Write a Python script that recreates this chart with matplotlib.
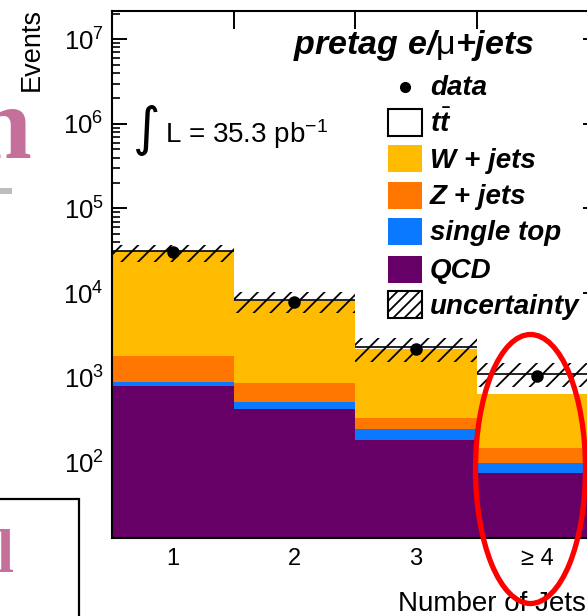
import matplotlib
matplotlib.use("Agg")
import matplotlib.pyplot as plt
import numpy as np
from matplotlib.patches import Rectangle, Ellipse
from matplotlib.lines import Line2D

W, H = 587, 616
DPI = 100

plt.rcParams['font.family'] = ['Liberation Sans', 'DejaVu Sans']
plt.rcParams['mathtext.fontset'] = 'custom'
plt.rcParams['mathtext.rm'] = 'Liberation Sans'
plt.rcParams['mathtext.it'] = 'Liberation Sans:italic:bold'
plt.rcParams['mathtext.bf'] = 'Liberation Sans:bold'
plt.rcParams['hatch.linewidth'] = 1.3

# ---- event yields per jet-multiplicity bin ----
jet_bins = ["1", "2", "3", "≥ 4"]
qcd = [800, 427, 183, 74]
single_top = [95, 89, 62, 23]
z_jets = [910, 349, 91, 49]
w_jets = [29500, 7271, 1830, 490]
ttbar = [150, 150, 120, 470]
data = [30300, 7910, 2166, 1047]
unc_low = [23500, 5770, 1545, 783]
unc_high = [37040, 10390, 2945, 1492]

samples = [
    ("QCD", qcd, "#660066"),
    ("single top", single_top, "#0A78FF"),
    ("Z + jets", z_jets, "#FF7700"),
    ("W + jets", w_jets, "#FFBB00"),
    (r"$t\bar{t}$", ttbar, "white"),
]

fig = plt.figure(figsize=(W / DPI, H / DPI), dpi=DPI)


def fx(x):
    return x / W


def fy(y):
    return 1 - y / H


ax = fig.add_axes([fx(112), fy(538), 486 / W, 527 / H])
x = np.arange(1, len(jet_bins) + 1)
edges = np.arange(0.5, len(jet_bins) + 1.0, 1.0)

bottom = np.zeros(len(jet_bins))
for name, vals, col in samples:
    vals = np.asarray(vals, float)
    ax.bar(x, vals, width=1.0, bottom=bottom, color=col, linewidth=0, zorder=2)
    bottom = bottom + vals
total = bottom

# stack outline on top
ax.hlines(total, edges[:-1], edges[1:], color="black", lw=1.2, zorder=4)

# uncertainty band
lo = np.asarray(unc_low, float)
hi = np.asarray(unc_high, float)
ax.bar(x, hi - lo, width=1.0, bottom=lo, fill=False, hatch="//",
       edgecolor="black", linewidth=0, zorder=3)

# data points
ax.plot(x, data, "o", color="black", markersize=8, zorder=5)

ax.set_yscale("log")
ax.set_xlim(0.5, 4.5)
ax.set_ylim(12.74, 2.16e7)

ax.set_xticks(edges[1:-1])
ax.set_xticklabels([])
ax.set_xticks(x, minor=True)
ax.set_xticklabels(jet_bins, minor=True, fontsize=17)
ax.tick_params(axis="x", which="major", direction="in", length=13, width=1.4,
               top=True, bottom=True)
ax.tick_params(axis="x", which="minor", length=0, pad=7)
ax.tick_params(axis="y", which="major", direction="in", length=11, width=1.4,
               left=True, right=True, labelsize=18.5, pad=6)
ax.tick_params(axis="y", which="minor", direction="in", length=6, width=1.2,
               left=True, right=True)
for s in ax.spines.values():
    s.set_linewidth(1.5)

# axis titles
fig.text(fx(32), fy(8), "Events", rotation=90, ha="center", va="top", fontsize=19.5)
fig.text(fx(398), fy(611), "Number of Jets", ha="left", va="baseline", fontsize=20)

# luminosity label
fig.text(fx(133), fy(130), "∫", family="DejaVu Sans", fontsize=38, ha="left", va="center")
fig.text(fx(165), fy(143), r"L = 35.3 pb$^{\mathdefault{-1}}$", ha="left",
         va="baseline", fontsize=20)

# channel label
fig.text(fx(293), fy(54), r"pretag e/$\mathrm{\mu}$+jets", ha="left", va="baseline",
         fontsize=24.5, fontweight="bold", fontstyle="italic")

# legend
leg_font = dict(fontsize=20, fontweight="bold", fontstyle="italic", ha="left", va="baseline")
fig.add_artist(Line2D([fx(405)], [fy(87)], marker="o", color="black", markersize=7,
                      transform=fig.transFigure))
fig.text(fx(430), fy(95), "data", **leg_font)

legend_rows = [
    (r"$t\bar{t}$", "white", 122.5, None),
    ("W + jets", "#FFBB00", 158.5, None),
    ("Z + jets", "#FF7700", 195.5, None),
    ("single top", "#0A78FF", 231.5, None),
    ("QCD", "#660066", 269.0, None),
    ("uncertainty", "white", 304.5, "///"),
]
for label, col, yc, hatch in legend_rows:
    boxed = col == "white"
    fig.add_artist(Rectangle((fx(388), fy(yc + 13.5)), 34 / W, 27 / H,
                             facecolor=col, edgecolor="black" if boxed else col,
                             linewidth=1.5 if boxed else 0, hatch=hatch,
                             transform=fig.transFigure))
    fig.text(fx(430), fy(yc + 9), label, **leg_font)

# slide elements around the plot
pink = "#C4709B"
fig.text(fx(31), fy(158), "n", family="Liberation Serif", fontweight="bold",
         fontsize=75, color=pink, ha="right", va="baseline")
fig.add_artist(Rectangle((fx(-2), fy(194)), 14 / W, 6 / H, facecolor="#BDBDBD",
                         edgecolor="none", transform=fig.transFigure))
fig.add_artist(Rectangle((fx(-10), fy(630)), 89 / W, 131 / H, facecolor="none",
                         edgecolor="black", linewidth=1.6, transform=fig.transFigure))
fig.text(fx(14), fy(572), "l", family="Liberation Serif", fontweight="bold",
         fontsize=44, color=pink, ha="right", va="baseline")

# highlight of the >=4 jets bin
fig.add_artist(Ellipse((fx(530.5), fy(469)), 110 / W, 269 / H, facecolor="none",
                       edgecolor="#FF0000", linewidth=3.8, transform=fig.transFigure,
                       zorder=10))

fig.savefig("out.png", dpi=DPI)
